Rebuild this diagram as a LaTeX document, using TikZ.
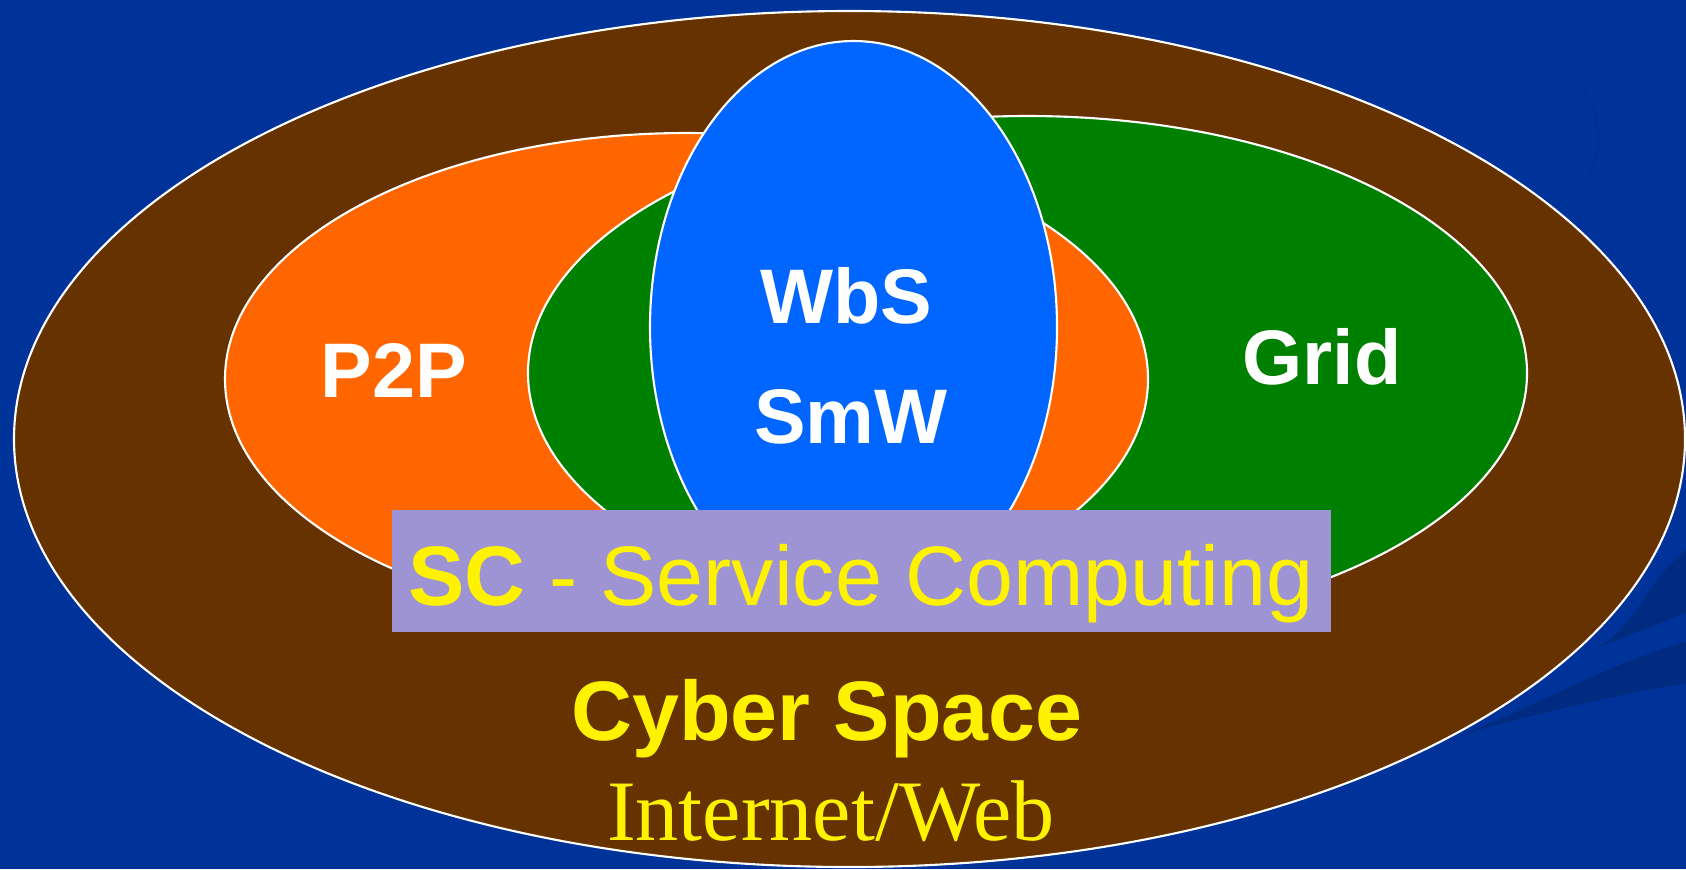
\documentclass[tikz,border=0pt]{standalone}
\usepackage{fontspec}
\setmainfont{Liberation Sans}
\newfontfamily\webfont{Liberation Serif}
\definecolor{slidebg}{RGB}{0,51,153}
\definecolor{swoosh}{RGB}{0,43,128}
\definecolor{cyberbrown}{RGB}{102,51,0}
\definecolor{ptporange}{RGB}{255,102,0}
\definecolor{gridgreen}{RGB}{0,128,0}
\definecolor{wbsblue}{RGB}{0,102,255}
\definecolor{scbox}{RGB}{158,148,212}
\begin{document}
\begin{tikzpicture}[x=0.01cm,y=-0.01cm]
  \tikzset{ring/.style={draw=white,line width=0.6pt},
    lbl/.style={text=white,anchor=base,font={\fontsize{22pt}{26pt}\selectfont\bfseries}},
    yel/.style={text=yellow,anchor=base}}
  \fill[slidebg] (0,0) rectangle (1686,869);
  \useasboundingbox (0,0) rectangle (1686,869);
  % background swooshes
  \fill[swoosh] (1460,735) .. controls (1540,705) and (1610,662) .. (1686,642)
    -- (1686,683) .. controls (1600,698) and (1530,716) .. cycle;
  \fill[swoosh] (1686,550) .. controls (1662,570) and (1650,588) .. (1640,605)
    .. controls (1625,625) and (1612,640) .. (1599,647)
    .. controls (1630,636) and (1660,622) .. (1686,613) -- cycle;
  \draw[swoosh!30!slidebg,line width=1pt] (1573,78) .. controls (1606,110) and (1602,160) .. (1585,183);
  % cyber space
  \filldraw[fill=cyberbrown,ring] (849.5,439) ellipse [x radius=835.5, y radius=428];
  % p2p and grid, linked
  \filldraw[fill=ptporange,ring] (686.5,379) ellipse [x radius=461.5, y radius=246];
  \filldraw[fill=gridgreen,ring] (1027.5,373) ellipse [x radius=499.5, y radius=257];
  \begin{scope}
    \clip (853,100) rectangle (1200,660);
    \filldraw[fill=ptporange,ring] (686.5,379) ellipse [x radius=461.5, y radius=246];
  \end{scope}
  % web services
  \filldraw[fill=wbsblue,ring] (853.5,327) ellipse [x radius=203.5, y radius=286];
  \fill[scbox] (392,510) rectangle (1331,632);
  \node[lbl] (ptp) at (394,397) {P2P};
  \node[lbl] (grid) at (1322,384) {Grid};
  \node[lbl] (wbs) at (846,323) {WbS};
  \node[lbl] (smw) at (851,443) {SmW};
  \node[yel,font={\fontsize{24pt}{28pt}\selectfont}] (sc) at (861,605) {\textbf{SC} - Service Computing};
  \node[yel,font={\fontsize{24pt}{28pt}\selectfont\bfseries}] (cyber) at (827,740) {Cyber Space};
  \node[yel,font={\fontsize{24.5pt}{28pt}\selectfont\webfont}] (web) at (831,840) {Internet/Web};
\end{tikzpicture}
\end{document}
